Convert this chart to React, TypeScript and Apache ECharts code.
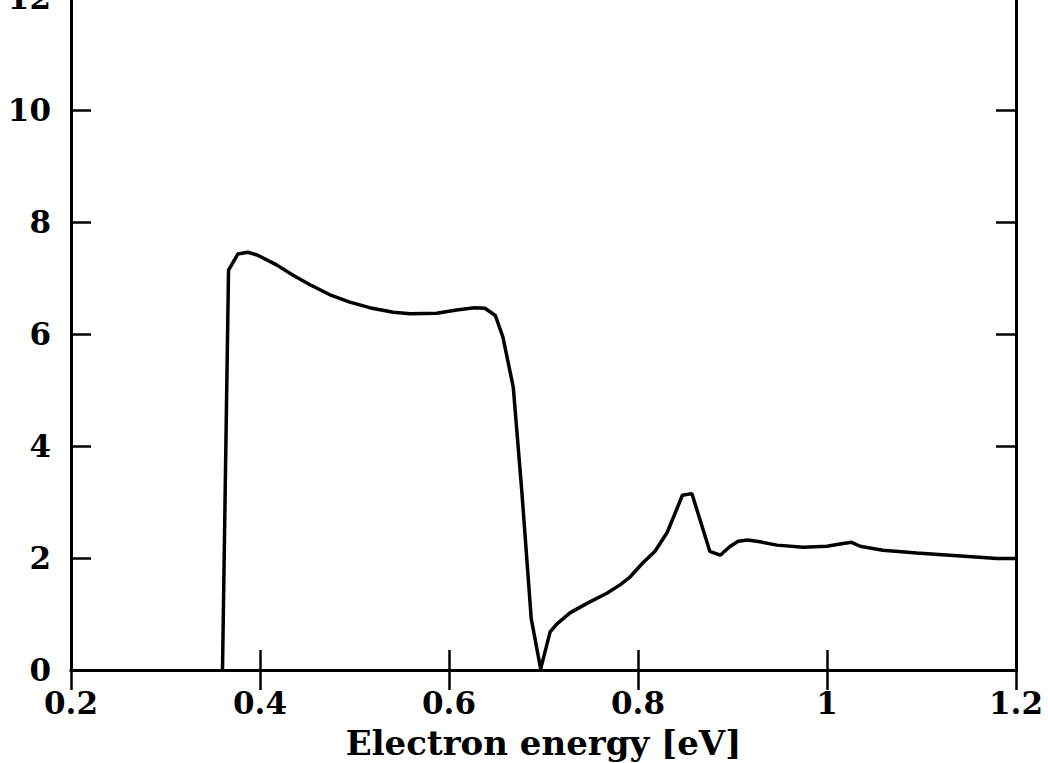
import React, { useEffect, useRef } from "react";
import * as echarts from "echarts";

const energy = [0.3603, 0.3667, 0.3767, 0.387, 0.397, 0.418, 0.435, 0.453, 0.474, 0.495, 0.516, 0.541, 0.559, 0.587, 0.608, 0.627, 0.638, 0.649, 0.657, 0.668, 0.677, 0.687, 0.697, 0.707, 0.714, 0.728, 0.746, 0.767, 0.781, 0.7915, 0.805, 0.818, 0.831, 0.847, 0.857, 0.876, 0.887, 0.897, 0.906, 0.916, 0.929, 0.947, 0.975, 1.0, 1.017, 1.026, 1.035, 1.059, 1.095, 1.13, 1.165, 1.18, 1.2];
const values = [0, 7.14, 7.43, 7.46, 7.41, 7.23, 7.05, 6.88, 6.7, 6.57, 6.47, 6.39, 6.36, 6.37, 6.43, 6.47, 6.46, 6.33, 5.95, 5.05, 3.2, 0.92, 0.02, 0.68, 0.82, 1.02, 1.19, 1.37, 1.52, 1.66, 1.91, 2.12, 2.46, 3.12, 3.15, 2.12, 2.05, 2.2, 2.3, 2.32, 2.29, 2.23, 2.19, 2.21, 2.26, 2.28, 2.21, 2.14, 2.09, 2.05, 2.01, 1.99, 1.99];
const xAxisName = "Electron energy [eV]";

const FONT = "DejaVu Serif";

export default function App() {
  const ref = useRef<HTMLDivElement>(null);
  useEffect(() => {
    if (!ref.current) return;
    const chart = echarts.init(ref.current, null, { renderer: "svg" });
    const axisLine = { show: true, lineStyle: { color: "#000", width: 3 } };
    const axisTick = { show: true, inside: true, length: 20, lineStyle: { color: "#000", width: 2.5 } };
    const label = { color: "#000", fontFamily: FONT, fontWeight: "bold" as const, fontSize: 31 };
    chart.setOption({
      animation: false,
      backgroundColor: "#fff",
      grid: { left: 71, right: 32, top: -2, bottom: 93, containLabel: false, outerBoundsMode: "none" },
      xAxis: [
        {
          type: "value", min: 0.2, max: 1.2, interval: 0.2, position: "bottom",
          axisLine, axisTick, splitLine: { show: false },
          axisLabel: { ...label, margin: 17 },
          name: xAxisName, nameLocation: "middle", nameGap: 56,
          nameTextStyle: { ...label, fontSize: 34 },
        },
        {
          type: "value", min: 0.2, max: 1.2, interval: 0.2, position: "top",
          axisLine, axisTick, splitLine: { show: false }, axisLabel: { show: false },
        },
      ],
      yAxis: [
        {
          type: "value", min: 0, max: 12, interval: 2, position: "left",
          axisLine, axisTick, splitLine: { show: false },
          axisLabel: { ...label, margin: 20 },
        },
        {
          type: "value", min: 0, max: 12, interval: 2, position: "right",
          axisLine, axisTick, splitLine: { show: false }, axisLabel: { show: false },
        },
      ],
      series: [
        {
          type: "line",
          data: energy.map((x, i) => [x, values[i]]),
          showSymbol: false,
          symbol: "none",
          lineStyle: { color: "#000", width: 3.5 },
          xAxisIndex: 0,
          yAxisIndex: 0,
        },
      ],
    });
    return () => chart.dispose();
  }, []);
  return <div ref={ref} style={{ width: 1048, height: 763, position: "absolute", left: 0, top: 0 }} />;
}
